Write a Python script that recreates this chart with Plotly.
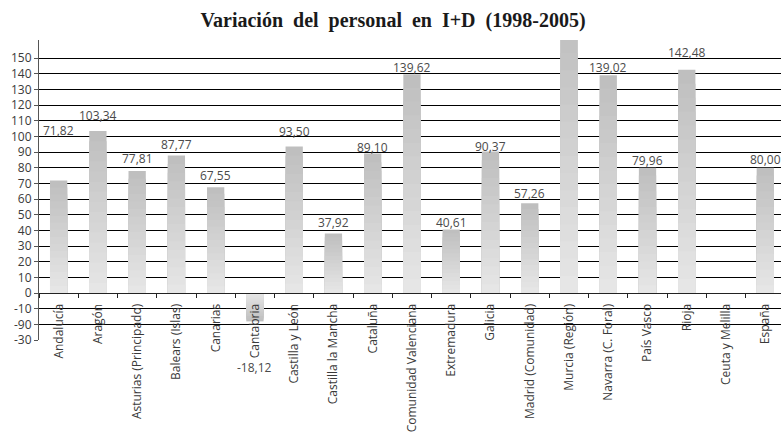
import plotly.graph_objects as go

categories = ["Andalucía", "Aragón", "Asturias (Principado)", "Balears (Islas)", "Canarias",
              "Cantabria", "Castilla y León", "Castilla la Mancha", "Cataluña",
              "Comunidad Valenciana", "Extremadura", "Galicia", "Madrid (Comunidad)",
              "Murcia (Región)", "Navarra (C. Foral)", "País Vasco", "Rioja",
              "Ceuta y Melilla", "España"]
values = [71.82, 103.34, 77.81, 87.77, 67.55, -18.12, 93.50, 37.92, 89.10, 139.62,
          40.61, 90.37, 57.26, 175.0, 139.02, 79.96, 142.48, None, 80.00]
show_label = [True, True, True, True, True, True, True, True, True, True,
              True, True, True, False, True, True, True, False, True]
tick_vals = list(range(-30, 151, 10))
tick_text = ["-30", "-90", "-10", "0", "10", "20", "30", "40", "50", "60", "70", "80",
             "90", "100", "110", "120", "130", "140", "150"]

# label offsets in px (style)
label_shift = [50, 16, 13, 11.5, 12, -46, 15.5, 11.6, 6, 7, 7, 4.5, 10, 0, 8, 7.7, 17, 0, 7.7]

W, H = 781, 434
ML, MR, MT, MB = 39, 0, 40, 94
y_range = [-30, 161.5]

fig = go.Figure()

N = 16
c_top, c_bot = 0xBF, 0xE6
for k in range(N, 0, -1):
    f = (k - 1) / (N - 1)
    c = round(c_bot + (c_top - c_bot) * f)
    col = f"rgb({c},{c},{c})"
    fig.add_trace(go.Bar(
        x=categories,
        y=[None if v is None else v * k / N for v in values],
        marker=dict(color=col, line=dict(width=0)),
        width=0.44,
        hoverinfo="skip",
        showlegend=False,
    ))

for cat, v, s, sh in zip(categories, values, show_label, label_shift):
    if v is None or not s:
        continue
    fig.add_annotation(
        x=cat, y=v, yshift=sh, showarrow=False,
        text=f"{v:.2f}".replace(".", ","),
        font=dict(family="Open Sans", size=12, color="#4a4a4a"),
        xanchor="center", yanchor="middle",
    )

# hide gridlines below zero (label area)
fig.add_shape(type="rect", xref="paper", yref="y", x0=0, x1=1, y0=y_range[0], y1=-0.6,
              fillcolor="white", line=dict(width=0), layer="between")

zero_pos = (0 - y_range[0]) / (y_range[1] - y_range[0])

title_text = "&nbsp;&nbsp;".join(["Variación", "del", "personal", "en", "I+D", "(1998-2005)"])

fig.update_layout(
    width=W, height=H,
    margin=dict(l=ML, r=MR, t=MT, b=MB, pad=0, autoexpand=False),
    paper_bgcolor="white", plot_bgcolor="white",
    barmode="overlay",
    title=dict(text=f"<b>{title_text}</b>",
               x=393 / W, xanchor="center", y=1 - 20 / H, yanchor="middle",
               font=dict(family="Liberation Serif", size=20, color="#1a1a1a")),
    xaxis=dict(
        type="category", range=[-0.5, 18.4], automargin=False,
        anchor="free", position=zero_pos,
        showline=True, linecolor="#222", linewidth=1,
        ticks="outside", tickson="boundaries", ticklen=4, tickcolor="#222",
        ticklabelstandoff=5,
        tickangle=-90, showgrid=False,
        tickfont=dict(family="Open Sans", size=12, color="#3a3a3a"),
    ),
    yaxis=dict(
        range=y_range, tickmode="array", tickvals=tick_vals, ticktext=tick_text,
        automargin=False,
        showgrid=True, gridcolor="#000", gridwidth=1,
        zeroline=False,
        showline=True, linecolor="#555", linewidth=1,
        ticks="outside", ticklen=4, tickcolor="#555",
        tickfont=dict(family="Open Sans", size=12, color="#3a3a3a"),
    ),
)

fig.write_html("out.html",
               config={"displayModeBar": False},
               post_script="document.body.style.margin='0';document.body.style.padding='0';")
